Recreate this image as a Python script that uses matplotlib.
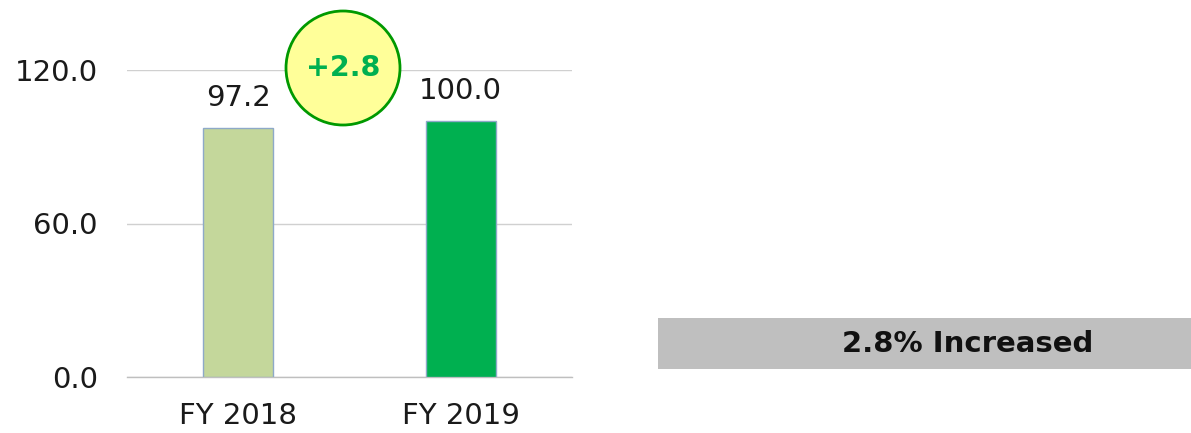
import matplotlib
matplotlib.use("Agg")
import matplotlib.pyplot as plt
from matplotlib.patches import Ellipse, Rectangle

categories = ["FY 2018", "FY 2019"]
values = [97.2, 100.0]
bar_colors = ["#C4D79B", "#00B050"]
yticks = [0.0, 60.0, 120.0]
ytick_labels = ["0.0", "60.0", "120.0"]
summary_text = "2.8% Increased"

plt.rcParams['font.family'] = ['DejaVu Sans']

W, H = 1191, 433
fig = plt.figure(figsize=(W / 100, H / 100), dpi=100)
ax = fig.add_axes([127 / W, (H - 377) / H, 445 / W, 307 / H])

x = list(range(len(categories)))
ax.bar(x, values, width=0.315, color=bar_colors, edgecolor="#8EA9C8", linewidth=1.0, zorder=3)
for xi, v in zip(x, values):
    ax.text(xi, v + 6.5, f"{v:.1f}", ha="center", va="bottom", fontsize=21, color="#1a1a1a")

ax.set_xlim(-0.5, 1.5)
ax.set_ylim(0, 120)
ax.set_yticks(yticks)
ax.set_yticklabels(ytick_labels)
ax.set_xticks(x)
ax.set_xticklabels(categories)
ax.tick_params(axis="both", length=0, labelsize=21, colors="#1a1a1a")
ax.tick_params(axis="y", pad=21)
ax.tick_params(axis="x", pad=18)
ax.grid(axis="y", color="#D0D0D0", linewidth=1.0, zorder=0)
for s in ["top", "right", "left"]:
    ax.spines[s].set_visible(False)
ax.spines["bottom"].set_color("#BFBFBF")
ax.spines["bottom"].set_linewidth(1.0)

# difference bubble
cx, cy, r = 343, 68, 57
circ = Ellipse((cx / W, 1 - cy / H), 2 * r / W, 2 * r / H, transform=fig.transFigure,
               facecolor="#FFFF99", edgecolor="#009900", linewidth=2.0, zorder=5)
fig.add_artist(circ)
fig.text(cx / W, 1 - cy / H, f"+{values[1] - values[0]:.1f}", ha="center", va="center",
         fontsize=20.5, fontweight="bold", color="#00B050", zorder=6)

# summary box
box = Rectangle((658 / W, 1 - 369 / H), (W - 658) / W, 51 / H, transform=fig.transFigure,
                facecolor="#BFBFBF", edgecolor="none")
fig.add_artist(box)
fig.text(968 / W, 1 - 344 / H, summary_text, ha="center", va="center",
         fontsize=21, fontweight="bold", color="#111111")

fig.savefig("out.png", dpi=100)
